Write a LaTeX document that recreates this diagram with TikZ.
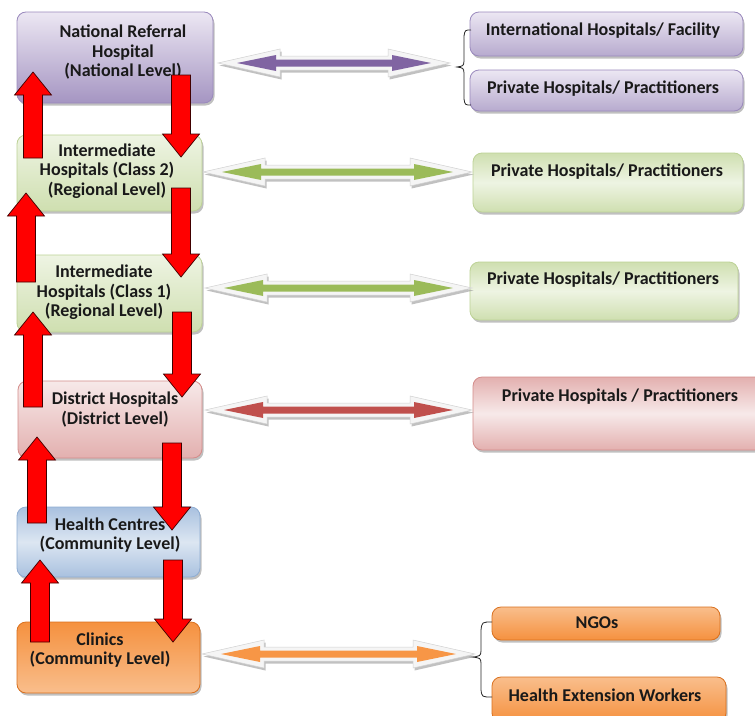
\documentclass[tikz,border=0pt]{standalone}
\usepackage{fontspec}
\setmainfont{Carlito}
\usetikzlibrary{shadows}
\definecolor{puD}{HTML}{A595C2}
\definecolor{puL}{HTML}{ECE7F3}
\definecolor{puB}{HTML}{9A89BD}
\definecolor{puA}{HTML}{8064A2}
\definecolor{grD}{HTML}{CFDFB0}
\definecolor{grL}{HTML}{EEF4E3}
\definecolor{grB}{HTML}{BDD296}
\definecolor{grA}{HTML}{9BBB59}
\definecolor{piD}{HTML}{E3B0AF}
\definecolor{piL}{HTML}{F7E9E9}
\definecolor{piB}{HTML}{D48C8A}
\definecolor{piA}{HTML}{C0504D}
\definecolor{blD}{HTML}{A9C1DF}
\definecolor{blL}{HTML}{DCE6F2}
\definecolor{blB}{HTML}{8EADD3}
\definecolor{orD}{HTML}{F5913F}
\definecolor{orL}{HTML}{F9BE8C}
\definecolor{orB}{HTML}{D9701E}
\definecolor{orA}{HTML}{F79646}
\tikzset{
  box/.style={rounded corners=9pt, draw, line width=0.8pt, inner sep=0pt,
    drop shadow={shadow xshift=1.5pt, shadow yshift=-2.5pt, opacity=.35, fill=black!70}},
  lbl/.style={font=\bfseries\fontsize{18}{19.5}\selectfont, align=center, inner sep=0pt, text=black!90},
  redarr/.style={fill=red, draw=black!75!red, line width=0.7pt},
  bracestyle/.style={draw=black!85, line width=0.8pt},
}
\newcommand\redup[3]{\filldraw[redarr] ({#1-9.5},#2) -- ({#1-9.5},{#3+23}) -- ({#1-18.5},{#3+23}) -- (#1,#3) -- ({#1+18.5},{#3+23}) -- ({#1+9.5},{#3+23}) -- ({#1+9.5},#2) -- cycle;}
\newcommand\reddown[3]{\filldraw[redarr] ({#1-9.5},#2) -- ({#1-9.5},{#3-23}) -- ({#1-18.5},{#3-23}) -- (#1,#3) -- ({#1+18.5},{#3-23}) -- ({#1+9.5},{#3-23}) -- ({#1+9.5},#2) -- cycle;}
\newcommand\dblarrow[4]{%
  \begin{scope}[shift={(1.5,2.5)}]
    \fill[black!40, opacity=.6] (#1,#3) -- ({#1+62},{#3-14}) -- ({#1+62},{#3-7}) -- ({#2-62},{#3-7}) -- ({#2-62},{#3-14}) -- (#2,#3) -- ({#2-62},{#3+14}) -- ({#2-62},{#3+7}) -- ({#1+62},{#3+7}) -- ({#1+62},{#3+14}) -- cycle;
  \end{scope}
  \filldraw[fill=black!4, draw=black!18, line width=0.5pt] (#1,#3) -- ({#1+62},{#3-14}) -- ({#1+62},{#3-7}) -- ({#2-62},{#3-7}) -- ({#2-62},{#3-14}) -- (#2,#3) -- ({#2-62},{#3+14}) -- ({#2-62},{#3+7}) -- ({#1+62},{#3+7}) -- ({#1+62},{#3+14}) -- cycle;
  \fill[#4] ({#1+19},#3) -- ({#1+58},{#3-8}) -- ({#1+58},{#3-3.5}) -- ({#2-58},{#3-3.5}) -- ({#2-58},{#3-8}) -- ({#2-19},#3) -- ({#2-58},{#3+8}) -- ({#2-58},{#3+3.5}) -- ({#1+58},{#3+3.5}) -- ({#1+58},{#3+8}) -- cycle;
}
\begin{document}
\begin{tikzpicture}[x=1pt, y=-1pt]
\useasboundingbox[fill=white] (0,0) rectangle (755,715);
\begin{scope}
\clip (0,0) rectangle (755,715);
% left column boxes
\node[box, draw=puB, top color=puL, bottom color=puD, minimum width=196pt, minimum height=91pt] (nat) at (115,57.5) {};
\node[box, draw=grB, top color=grL, bottom color=grD, minimum width=185pt, minimum height=76pt] (int2) at (109.5,173) {};
\node[box, draw=grB, top color=grL, bottom color=grD, minimum width=185pt, minimum height=77pt] (int1) at (109.5,293.5) {};
\node[box, draw=piB, top color=piL, bottom color=piD, minimum width=184pt, minimum height=77pt] (dist) at (110,419.5) {};
\node[box, draw=blB, top color=blD, bottom color=blD, middle color=blL, minimum width=183pt, minimum height=70pt] (hc) at (108.5,542) {};
\node[box, draw=orB, top color=orD, bottom color=orL, minimum width=183pt, minimum height=71pt] (cli) at (108.5,657.5) {};
% right column boxes
\node[box, draw=puB, top color=puL, bottom color=puD!80, minimum width=273pt, minimum height=44pt] (intl) at (606.5,34) {};
\node[box, draw=puB, top color=puL, bottom color=puD!80, minimum width=273pt, minimum height=41pt] (priv1) at (606.5,90.5) {};
\node[box, draw=grB, top color=grD, bottom color=grD, middle color=grL, minimum width=270pt, minimum height=59pt] (priv2) at (608,182.5) {};
\node[box, draw=grB, top color=grD, bottom color=grD, middle color=grL, minimum width=268pt, minimum height=58pt] (priv3) at (604,291) {};
\node[box, draw=piB, top color=piD, bottom color=piD, middle color=piL, minimum width=292pt, minimum height=73pt] (priv4) at (619,413.5) {};
\node[box, draw=orB, top color=orL, bottom color=orD, minimum width=228pt, minimum height=33pt] (ngo) at (606,623.5) {};
\node[box, draw=orB, top color=orL, bottom color=orD, minimum width=234pt, minimum height=45pt] (hew) at (609,699.5) {};
% texts
\node[lbl] (natT) at (123,52.5) {National Referral\\Hospital\\(National Level)};
\node[lbl] (int2T) at (107,171) {Intermediate\\Hospitals (Class 2)\\(Regional Level)};
\node[lbl] (int1T) at (104,292.5) {Intermediate\\Hospitals (Class 1)\\(Regional Level)};
\node[lbl] (distT) at (115,409.5) {District Hospitals\\(District Level)};
\node[lbl] (hcT) at (110,535) {Health Centres\\(Community Level)};
\node[lbl] (cliT) at (100,650) {Clinics\\(Community Level)};
\node[lbl] (intlT) at (603,31) {International Hospitals/ Facility};
\node[lbl] (priv1T) at (603,89) {Private Hospitals/ Practitioners};
\node[lbl] (priv2T) at (607,172) {Private Hospitals/ Practitioners};
\node[lbl] (priv3T) at (603,280) {Private Hospitals/ Practitioners};
\node[lbl] (priv4T) at (620,397) {Private Hospitals / Practitioners};
\node[lbl] (ngoT) at (597,623) {NGOs};
\node[lbl] (hewT) at (605,695) {Health Extension Workers};
% braces
\draw[bracestyle] (471,30) .. controls (465,30) .. (464,36) -- (464,61) .. controls (463.5,66) .. (457,67) .. controls (463.5,68) .. (464,73) -- (464,99) .. controls (465,105) .. (471,105);
\draw[bracestyle] (492,622) .. controls (482,622) .. (481,630) -- (481,651) .. controls (480.5,656) .. (472,657) .. controls (480.5,658) .. (481,663) -- (481,690) .. controls (482,697) .. (492,697);
% double arrows
\dblarrow{218}{450}{63}{puA}
\dblarrow{203}{472}{172}{grA}
\dblarrow{205}{472}{288}{grA}
\dblarrow{205}{472}{410}{piA}
\dblarrow{202}{475}{654}{orA}
% red referral arrows
\redup{33}{158}{72}
\redup{26}{282}{193}
\redup{33}{407}{312}
\redup{37}{523}{437}
\redup{40}{642}{560}
\reddown{181}{75}{157}
\reddown{181}{188}{277}
\reddown{182}{312}{397}
\reddown{172}{443}{530}
\reddown{173}{560}{642}
\end{scope}
\end{tikzpicture}
\end{document}
